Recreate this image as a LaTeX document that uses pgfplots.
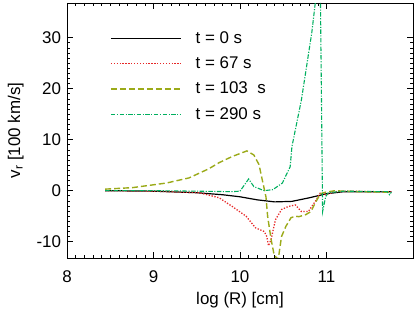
\documentclass[border=0pt]{standalone}
\usepackage{pgfplots}
\pgfplotsset{compat=1.18}
\usepackage{fontspec}
\setmainfont{Liberation Sans}
\definecolor{cred}{RGB}{230,40,40}
\definecolor{colive}{RGB}{155,170,25}
\definecolor{cgreen}{RGB}{0,175,95}
\begin{document}
\begin{tikzpicture}
\begin{axis}[
  name=ax,
  scale only axis, width=346bp, height=255bp,
  xmin=8, xmax=12, ymin=-13.2, ymax=36.8,
  xtick={8,9,10,11}, ytick={-10,0,10,20,30},
  minor x tick num=9, minor y tick num=9,
  tick align=inside, major tick length=6bp, minor tick length=3bp,
  tick style={black, line width=0.6pt},
  axis line style={line width=0.8pt},
  every tick label/.append style={font=\fontsize{17}{20}\selectfont},
  xticklabel style={anchor=base, yshift=-25bp},
  yticklabel style={anchor=east, xshift=-2.5bp},
  /pgf/number format/assume math mode=true,
  xlabel={log (R) [cm]}, ylabel={v$_\mathrm{r}$ [100 km/s]},
  label style={font=\fontsize{17}{20}\selectfont},
  xlabel style={at={(axis description cs:0.5,-0.1843)}, anchor=base},
  ylabel style={at={(axis description cs:-0.1358,0.5)}, anchor=base},
  clip=true,
  legend style={at={(axis description cs:0.1243,0.8902)}, anchor=north west, draw=none, fill=none,
    font=\fontsize{17}{20}\selectfont, row sep=9.3bp, inner sep=0pt,
    nodes={inner sep=0pt, text height=12bp, text depth=4bp}},
  legend cell align=left,
  legend image code/.code={\draw[#1] (0bp,0.8bp) -- (70bp,0.8bp);},
  every axis plot/.append style={line width=1.1pt},
]
\addplot[black, solid, line width=1.2pt] coordinates {
(8.44,0) (9.0,-0.1) (9.5,-0.4) (9.8,-0.8) (10.0,-1.2) (10.2,-1.8) (10.4,-2.2) (10.6,-2.1) (10.8,-1.4) (11.0,-0.6) (11.2,-0.2) (11.5,-0.2) (11.75,-0.2)};
\addlegendentry{\hspace{14bp}t = 0 s}
\addplot[cred, dash pattern=on 1.3pt off 1.6pt, line width=1.3pt] coordinates {
(8.44,0) (9.0,-0.1) (9.53,-0.4) (9.76,-1.4) (9.91,-3.1) (10.07,-5) (10.18,-7.3) (10.28,-8) (10.31,-9) (10.33,-10.8) (10.36,-9.5) (10.41,-5.7) (10.48,-3.7) (10.56,-3.1) (10.64,-2.8) (10.71,-4.1) (10.79,-4.1) (10.87,-2.1) (10.93,-0.4) (10.99,-0.8) (11.1,-0.2) (11.3,-0.1) (11.5,-0.2) (11.75,-0.2)};
\addlegendentry{\hspace{14bp}t = 67 s}
\addplot[colive, dash pattern=on 6bp off 3bp, line width=1.4pt] coordinates {
(8.44,0.3) (8.76,0.6) (9.15,1.5) (9.41,2.5) (9.64,4.3) (9.76,5.5) (9.91,6.7) (10.08,7.8) (10.16,7) (10.22,5.1) (10.25,2.7) (10.30,-1.2) (10.32,-5.1) (10.36,-9.6) (10.39,-12.2) (10.43,-13.5) (10.45,-12.5) (10.48,-9) (10.53,-7) (10.59,-5.3) (10.64,-5) (10.68,-5.1) (10.76,-4.7) (10.82,-4.1) (10.87,-2.4) (10.93,-0.6) (10.99,-0.3) (11.1,0) (11.2,-0.1) (11.4,-0.2) (11.75,-0.3)};
\addlegendentry{\hspace{14bp}t = 103\ \ s}
\addplot[cgreen, dash pattern=on 4.5bp off 1.5bp on 1.1bp off 1.5bp] coordinates {
(8.44,0) (9.0,0) (9.5,-0.1) (9.9,-0.2) (10.0,-0.1) (10.1,2.3) (10.16,0.8) (10.28,0) (10.38,0.2) (10.49,1.5) (10.58,4.7) (10.60,8.6) (10.71,17.8) (10.83,31) (10.875,37.5) (10.93,37.5) (10.955,-4.1) (10.99,-1.2) (11.02,-0.4) (11.2,-0.1) (11.7,-0.2) (11.73,-0.8) (11.75,-0.3)};
\addlegendentry{\hspace{14bp}t = 290 s}
\end{axis}
\pgfresetboundingbox
\path ([shift={(-67bp,-54bp)}]ax.south west) rectangle ([shift={(2bp,3bp)}]ax.north east);
\end{tikzpicture}
\end{document}
